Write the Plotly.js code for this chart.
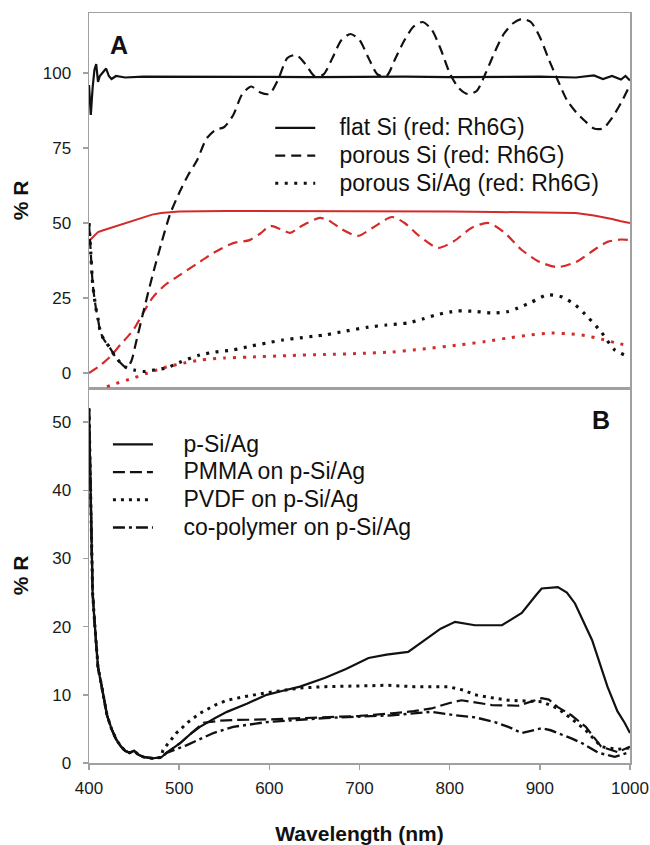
<!DOCTYPE html>
<html>
<head>
<meta charset="utf-8">
<script src="https://cdn.plot.ly/plotly-3.0.1.min.js"></script>
<style>html,body{margin:0;padding:0;background:#fff;}#chart{width:650px;height:845px;}</style>
</head>
<body>
<div id="chart"></div>
<script>
// ---------- Panel A data ----------
const flatSiX = [400,401,402,404,406,408,410,412,415,419,422,425,430,440,460,500,550,600,650,700,750,800,850,900,940,960,970,980,990,995,1000];
const flatSiY = [96,90,86,95,101,103,97,99,100,101.5,99,98,99,98.5,98.8,98.7,98.6,98.7,98.6,98.7,98.8,98.6,98.7,98.8,98.5,99.2,98,99,97.8,99,97.5];

const flatSiDyeX = [400,403,406,410,415,420,430,440,450,460,470,480,490,500,550,600,650,700,750,800,850,900,940,960,970,980,990,1000];
const flatSiDyeY = [44,45,46,47,47.5,48,49,50,51,52,52.8,53.3,53.6,53.8,54,54,54,53.9,54,53.8,53.7,53.6,53.3,52.5,52,51.3,50.6,50];

const porousSiX = [400,401,402,404,406,408,410,412,415,418,423,428,434,442,447,452,460,470,480,490,500,510,520,530,540,550,560,570,580,590,600,610,620,630,640,650,660,670,680,690,700,710,720,730,740,750,760,770,780,790,800,810,820,830,840,850,860,870,880,890,900,910,920,930,940,950,960,970,980,990,1000];
const porousSiY = [50,45,40,30,25,21,18,14.5,12,10.5,8.5,6,3.7,1.7,4,10,20,32,43,53,60,66,71,78,81,82,86,93,95.5,93.5,93,98,105,106,103,99,99.5,105,111,113,111,105,99.5,99,105,111,115.5,117,114.5,108,100,95,93,94,100,107,113,116.5,118,117,112,104.5,97.5,91,87,84,81.5,81.5,85,90,96];

const porousSiDyeX = [400,410,423,435,449,460,471,485,501,520,538,560,578,590,601,612,623,633,642,656,665,680,698,715,736,750,765,787,805,825,843,860,880,900,920,940,960,975,990,1000];
const porousSiDyeY = [0,2,5.3,9.5,14.3,20,25.3,29.5,32.7,36.5,40,43.3,44.3,46.5,49,48,46.7,48.5,50,51.7,51,48,45.7,48.5,52,50,46,41.7,44,48.5,50,47,41,37,35.3,37,41,43.7,44.5,44.3];

const porousSiAgX = [400,401,402,404,406,408,410,412,415,418,423,428,434,442,450,460,472,486,500,523,540,560,580,597,615,634,650,662,685,710,730,754,770,784,800,809,830,847,865,876,890,908,925,940,953,968,983,1000];
const porousSiAgY = [50,45,40,30,25,21,18,14.5,12,10.5,8.5,6,3.7,1.7,1,0.5,1,1.7,3.5,6,7,7.7,9,10,11,11.7,12.3,12.7,14,15.3,16,16.7,18,19.3,20.3,20.7,20.5,20,20.5,21.7,23.5,26,25.3,22.5,18.7,13.7,7.7,5.3];

const porousSiAgDyeX = [410,416,430,449,465,486,505,523,550,578,620,662,700,736,770,809,840,865,890,913,935,950,968,985,1000];
const porousSiAgDyeY = [-6,-5,-3.5,-1.7,0,2,3.3,4.3,5,5.3,5.8,6.2,6.5,7,8,9.3,10.5,11.7,12.7,13.3,13,12.5,11.3,10,9];

// ---------- Panel B data ----------
const bStartX = [400,401,402,403,404,406,408,410,413,416,420,425,430,435,440,445,450,455,460,470,480];
const bStartY = [52,45,38,30,25,21,17,14,12,10,7,5,3.5,2.5,1.8,1.5,1.8,1.2,0.9,0.7,0.8];

const pSiAgX = [486,501,512,523,540,553,575,597,615,634,662,685,710,730,754,772,790,806,828,858,880,895,902,920,930,939,958,975,986,994,1000];
const pSiAgY = [1.5,2.9,4.2,5.3,6.6,7.5,8.7,10,10.6,11.2,12.5,13.8,15.4,15.9,16.3,18,19.7,20.7,20.2,20.2,22,24.5,25.6,25.8,25,23.4,18,11.2,7.6,5.9,4.4];

const pmmaX = [486,501,512,527,545,560,600,662,700,736,760,780,800,813,830,847,876,890,902,910,920,935,951,968,986,1000];
const pmmaY = [1.5,2.9,4.2,5.9,6.2,6.3,6.4,6.7,6.9,7.3,7.6,8,8.8,9.2,8.8,8.5,8.4,9,9.5,9.3,8.2,7,5.3,2.4,1.6,2.4];

const pvdfX = [482,497,510,523,540,553,575,597,634,662,700,730,760,798,815,828,845,865,902,920,935,951,968,985,1000];
const pvdfY = [1.9,4.4,6,7.3,8.5,9.2,9.8,10.3,11,11.2,11.3,11.4,11.2,11.2,10.7,10,9.6,9.2,9,8,6.5,4.8,2.4,2,2.2];

const copolyX = [486,508,523,538,560,597,662,700,736,780,806,828,850,865,880,890,902,912,920,935,947,965,983,1000];
const copolyY = [1.5,2.6,3.5,4.4,5.3,6,6.6,6.8,7,7.5,7,6.7,6,5.3,4.4,4.7,5.1,4.8,4.4,3.6,2.9,1.5,0.9,1.6];

const namesA = ['flat Si (red: Rh6G)', 'porous Si (red: Rh6G)', 'porous Si/Ag (red: Rh6G)'];
const namesB = ['p-Si/Ag', 'PMMA on p-Si/Ag', 'PVDF on p-Si/Ag', 'co-polymer on p-Si/Ag'];
const xTicks = [400,500,600,700,800,900,1000];
const yTicksA = [0,25,50,75,100];
const yTicksB = [0,10,20,30,40,50];

const RED = '#d42a2a';
const BLK = '#111111';
const GRAY = '#a0a0a0';
const FONT = 'Liberation Sans, Arial, sans-serif';
const legName = (s, pad) => '<span style="font-size:23px">' + '&nbsp;'.repeat(pad) + s + '</span>';

const traces = [
  // Panel A red (dye)
  {x: flatSiDyeX, y: flatSiDyeY, xaxis:'x2', yaxis:'y', mode:'lines', showlegend:false,
   line:{color:RED, width:2}},
  {x: porousSiDyeX, y: porousSiDyeY, xaxis:'x2', yaxis:'y', mode:'lines', showlegend:false,
   line:{color:RED, width:2.2, dash:'10px,6px', shape:'spline', smoothing:0.7}},
  {x: porousSiAgDyeX, y: porousSiAgDyeY, xaxis:'x2', yaxis:'y', mode:'lines', showlegend:false,
   line:{color:RED, width:3, dash:'3px,7px', shape:'spline', smoothing:0.7}},
  // Panel A black
  {x: flatSiX, y: flatSiY, xaxis:'x2', yaxis:'y', mode:'lines', name:legName(namesA[0], 3), legend:'legend',
   line:{color:BLK, width:2.2}},
  {x: porousSiX, y: porousSiY, xaxis:'x2', yaxis:'y', mode:'lines', name:legName(namesA[1], 3), legend:'legend',
   line:{color:BLK, width:2.2, dash:'10px,6px', shape:'spline', smoothing:0.7}},
  {x: porousSiAgX, y: porousSiAgY, xaxis:'x2', yaxis:'y', mode:'lines', name:legName(namesA[2], 3), legend:'legend',
   line:{color:BLK, width:3.2, dash:'3px,6.5px', shape:'spline', smoothing:0.7}},
  // Panel B
  {x: bStartX.concat(pSiAgX), y: bStartY.concat(pSiAgY), xaxis:'x', yaxis:'y2', mode:'lines', name:legName(namesB[0], 4), legend:'legend2',
   line:{color:BLK, width:2.2}},
  {x: bStartX.concat(pmmaX), y: bStartY.concat(pmmaY), xaxis:'x', yaxis:'y2', mode:'lines', name:legName(namesB[1], 4), legend:'legend2',
   line:{color:BLK, width:2.2, dash:'12px,5px'}},
  {x: bStartX.concat(pvdfX), y: bStartY.concat(pvdfY), xaxis:'x', yaxis:'y2', mode:'lines', name:legName(namesB[2], 4), legend:'legend2',
   line:{color:BLK, width:3, dash:'3px,5px'}},
  {x: bStartX.concat(copolyX), y: bStartY.concat(copolyY), xaxis:'x', yaxis:'y2', mode:'lines', name:legName(namesB[3], 4), legend:'legend2',
   line:{color:BLK, width:2.4, dash:'12px,4px,3px,4px'}}
];

const tickFont = {family: FONT, size: 17, color: '#1a1a1a'};
const titleFont = {family: FONT, size: 21, color: '#111', weight: 'bold'};

const layout = {
  width: 650, height: 845,
  margin: {l: 89, r: 20, t: 13, b: 82},
  paper_bgcolor: '#fff', plot_bgcolor: '#fff',
  font: {family: FONT, color: '#111'},
  xaxis: {domain:[0,1], anchor:'y2', range:[400,1000], tickvals:xTicks, ticks:'outside', ticklen:5, tickwidth:1.5,
          tickcolor:GRAY, showline:true, linecolor:GRAY, linewidth:1.5, mirror:true, showgrid:false, zeroline:false,
          tickfont:tickFont, ticklabelstandoff:4,
          title:{text:'Wavelength (nm)', font:titleFont, standoff:31}},
  xaxis2: {domain:[0,1], anchor:'y', matches:'x', range:[400,1000], showticklabels:false, ticks:'',
           showline:true, linecolor:GRAY, linewidth:1.5, mirror:true, showgrid:false, zeroline:false},
  yaxis: {domain:[0.5,1], anchor:'x2', range:[-5,120], tickvals:yTicksA, ticks:'outside', ticklen:5, tickwidth:1.5,
          tickcolor:GRAY, showline:true, linecolor:GRAY, linewidth:1.5, mirror:true, showgrid:false, zeroline:false,
          tickfont:tickFont, ticklabelstandoff:8,
          title:{text:'% R', font:titleFont, standoff:8}},
  yaxis2: {domain:[0,0.5], anchor:'x', range:[0,55], tickvals:yTicksB, ticks:'outside', ticklen:5, tickwidth:1.5,
          tickcolor:GRAY, showline:true, linecolor:GRAY, linewidth:1.5, mirror:true, showgrid:false, zeroline:false,
          tickfont:tickFont, ticklabelstandoff:8,
          title:{text:'% R', font:titleFont, standoff:18}},
  legend: {x:0.335, y:0.872, xanchor:'left', yanchor:'top', bgcolor:'rgba(0,0,0,0)',
           font:{family:FONT, size:19, color:'#111'}, itemwidth:40, tracegroupgap:0},
  legend2: {x:0.035, y:0.450, xanchor:'left', yanchor:'top', bgcolor:'rgba(0,0,0,0)',
           font:{family:FONT, size:19, color:'#111'}, itemwidth:40, tracegroupgap:0},
  annotations: [
    {text:'A', xref:'paper', yref:'paper', x:0.055, y:0.957, xanchor:'center', yanchor:'middle', showarrow:false,
     font:{family:FONT, size:25, color:'#111', weight:'bold'}},
    {text:'B', xref:'paper', yref:'paper', x:0.946, y:0.457, xanchor:'center', yanchor:'middle', showarrow:false,
     font:{family:FONT, size:25, color:'#111', weight:'bold'}}
  ]
};

Plotly.newPlot('chart', traces, layout, {displayModeBar:false, staticPlot:true});
</script>
</body>
</html>
